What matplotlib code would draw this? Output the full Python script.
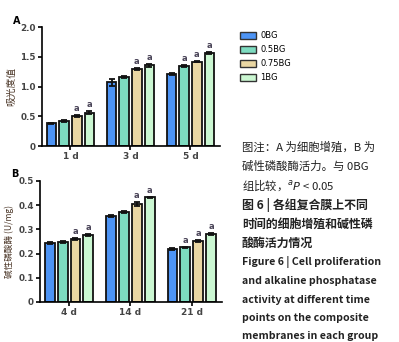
import numpy as np
import matplotlib
matplotlib.use("Agg")
import matplotlib.pyplot as plt
from matplotlib.patches import Patch

plt.rcParams['font.family'] = ['Noto Sans CJK SC', 'DejaVu Sans']

# data
groups = ["0BG", "0.5BG", "0.75BG", "1BG"]
colors = ["#4d94f5", "#7ddbc0", "#ead7a3", "#cbf7d2"]

days_a = ["1 d", "3 d", "5 d"]
od_vals = [[0.38, 1.07, 1.21],
           [0.42, 1.16, 1.35],
           [0.50, 1.29, 1.42],
           [0.56, 1.36, 1.56]]
od_err = [[0.015, 0.06, 0.02],
          [0.015, 0.01, 0.02],
          [0.02, 0.02, 0.015],
          [0.03, 0.025, 0.02]]
od_sig = [[False, False, False],
          [False, False, True],
          [True, True, True],
          [True, True, True]]

days_b = ["4 d", "14 d", "21 d"]
alp_vals = [[0.243, 0.354, 0.218],
            [0.247, 0.371, 0.226],
            [0.262, 0.406, 0.252],
            [0.278, 0.432, 0.280]]
alp_err = [[0.003, 0.004, 0.003],
           [0.003, 0.004, 0.003],
           [0.004, 0.008, 0.003],
           [0.004, 0.003, 0.004]]
alp_sig = [[False, False, False],
           [False, False, True],
           [True, True, True],
           [True, True, True]]

fig = plt.figure(figsize=(3.99, 3.42), dpi=100)
tick_col = "#444444"


def draw_panel(ax, days, vals, errs, sig, ymax, yticks, yticklabels, ylabel, ylsize, off):
    x = np.arange(len(days))
    pitch, width = 0.21, 0.16
    for i in range(len(groups)):
        xs = x + (i - 1.5) * pitch
        ax.bar(xs, vals[i], width, color=colors[i], edgecolor="#111111", linewidth=1.3,
               yerr=errs[i], error_kw=dict(ecolor="#111111", elinewidth=1.3, capsize=2, capthick=1.3),
               zorder=2)
        for j in range(len(days)):
            if sig[i][j]:
                ax.text(xs[j], vals[i][j] + errs[i][j] + off, "a", ha="center", va="bottom",
                        fontsize=6, fontweight="bold", color="#4a4458", family="DejaVu Sans")
    ax.set_xlim(-0.475, 2.49)
    ax.set_ylim(0, ymax)
    ax.set_xticks(x)
    ax.set_xticklabels(days, fontsize=6.5, fontweight="bold", color=tick_col, family="DejaVu Sans")
    ax.set_yticks(yticks)
    ax.set_yticklabels(yticklabels, fontsize=6.3, fontweight="bold", color=tick_col, family="DejaVu Sans")
    ax.spines["top"].set_visible(False)
    ax.spines["right"].set_visible(False)
    for s in ["left", "bottom"]:
        ax.spines[s].set_linewidth(1.2)
    ax.tick_params(length=3, width=1.2, pad=1.5)
    ax.set_ylabel(ylabel, fontsize=ylsize, color="#4a3526", labelpad=3)


ax1 = fig.add_axes([0.105, 0.573, 0.446, 0.348])
draw_panel(ax1, days_a, od_vals, od_err, od_sig, 2.0,
           [0, 0.5, 1.0, 1.5, 2.0], ["0", "0.5", "1.0", "1.5", "2.0"], "吸光度值", 7, 0.03)

ax2 = fig.add_axes([0.100, 0.117, 0.456, 0.354])
draw_panel(ax2, days_b, alp_vals, alp_err, alp_sig, 0.5,
           [0, 0.1, 0.2, 0.3, 0.4, 0.5], ["0", "0.1", "0.2", "0.3", "0.4", "0.5"],
           "碱性磷酸酶 (U/mg)", 6.2, 0.008)

fig.text(17 / 399, 1 - 21 / 342, "A", fontsize=7, fontweight="bold", family="DejaVu Sans",
         ha="center", va="center")
fig.text(15 / 399, 1 - 174 / 342, "B", fontsize=7, fontweight="bold", family="DejaVu Sans",
         ha="center", va="center")

# legend
handles = [Patch(facecolor=c, edgecolor="#333333", linewidth=1.0) for c in colors]
fig.legend(handles, groups, loc="upper left", bbox_to_anchor=(0.582, 0.93), frameon=False,
           handlelength=2.0, handleheight=1.0, labelspacing=0.6, handletextpad=0.5,
           prop={"family": "DejaVu Sans", "size": 6})

# caption
cap_x = 242 / 399
cap_lines = [
    ("图注：A 为细胞增殖，B 为", "normal", 8.2, 147),
    ("碱性磷酸酶活力。与 0BG", "normal", 8.2, 166),
    ("组比较，$^{a}$$\\it{P}$ < 0.05", "normal", 8.2, 185),
    ("图 6 | 各组复合膜上不同", "bold", 8.6, 205),
    ("时间的细胞增殖和碱性磷", "bold", 8.6, 224),
    ("酸酶活力情况", "bold", 8.6, 243),
    ("Figure 6 | Cell proliferation", "bold", 7.6, 262),
    ("and alkaline phosphatase", "bold", 7.6, 281),
    ("activity at different time", "bold", 7.6, 300),
    ("points on the composite", "bold", 7.6, 318),
    ("membranes in each group", "bold", 7.6, 336),
]
for txt, w, size, y in cap_lines:
    fig.text(cap_x, 1 - y / 342, txt, fontsize=size, fontweight=w,
             ha="left", va="center", color="#222222")

fig.savefig("out.png", dpi=100)
